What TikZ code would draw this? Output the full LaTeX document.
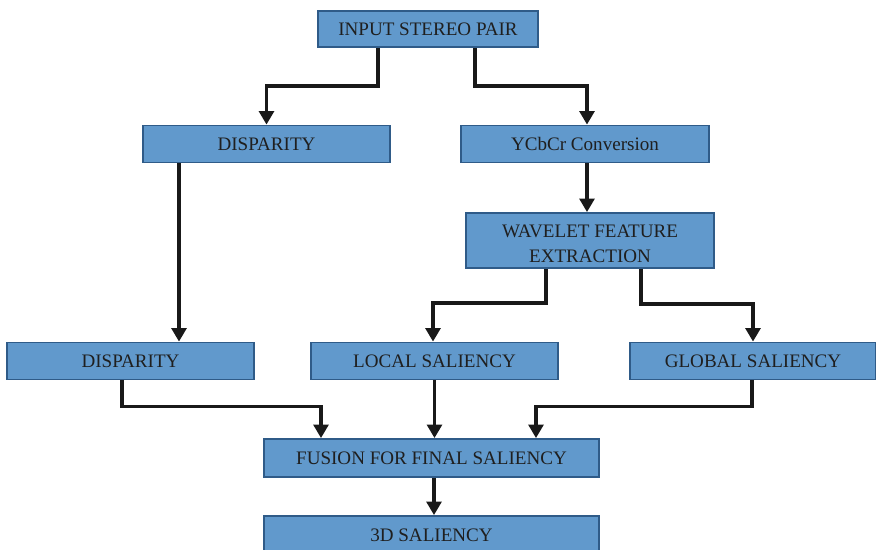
\documentclass[tikz,border=0pt]{standalone}
\usepackage{fontspec}
\setmainfont{Liberation Serif}
\usetikzlibrary{arrows.meta,calc}
\definecolor{boxfill}{HTML}{6199CC}
\definecolor{boxline}{HTML}{2F5B88}
\begin{document}
\begin{tikzpicture}[x=0.75pt,y=-0.75pt,>={Triangle[width=11pt,length=10pt]}]
	\tikzset{block/.style={draw=boxline,line width=1.4pt,fill=boxfill,text=black!88,
			font=\fontsize{14.3}{18.5}\selectfont,inner sep=0pt,align=center,
			minimum width=185.25pt,minimum height=27.75pt},
		link/.style={->,line width=2.5pt,black!90}}
	\useasboundingbox (0,0) rectangle (876,550);
	% boxes
	\node[block,minimum width=165pt,minimum height=27pt] (inp) at (428,29) {INPUT STEREO PAIR};
	\node[block] (disp1) at (266.5,144) {DISPARITY};
	\node[block,minimum width=186pt] (ycbcr) at (585,144) {YCbCr Conversion};
	\node[block,minimum width=186pt,minimum height=41.25pt] (wave) at (590,240.5) {\rule{0pt}{14pt}WAVELET FEATURE\\EXTRACTION};
	\node[block] (disp2) at (130.5,361) {DISPARITY};
	\node[block] (local) at (434.5,361) {LOCAL SALIENCY};
	\node[block,minimum width=184.5pt] (global) at (753,361) {GLOBAL SALIENCY};
	\node[block,minimum width=251.25pt,minimum height=28.5pt] (fusion) at (431.5,458) {FUSION FOR FINAL SALIENCY};
	\node[block,minimum width=251.25pt,minimum height=28.5pt] (final) at (431.5,535) {3D SALIENCY};
	% connectors
	\draw[link] ($(inp.south)+(-50,0)$) -- ++(0,38) -| (disp1.north);
	\draw[link] ($(inp.south)+(47,0)$) -- ++(0,38) -| ($(ycbcr.north)+(2,0)$);
	\draw[link] ($(disp1.south)+(-87.5,0)$) -- ($(disp2.north)+(48.5,0)$);
	\draw[link] ($(ycbcr.south)+(2,0)$) -- ($(wave.north)+(-3,0)$);
	\draw[link] ($(wave.south)+(-44,0)$) -- ++(0,34) -| ($(local.north)+(-1.5,0)$);
	\draw[link] ($(wave.south)+(51,0)$) -- ++(0,35) -| (global.north);
	\draw[link] ($(disp2.south)+(-8.5,0)$) -- ++(0,26) -| ($(fusion.north)+(-110.5,0)$);
	\draw[link] (local.south) -- (local.south |- fusion.north);
	\draw[link] ($(global.south)+(-1,0)$) -- ++(0,26) -| ($(fusion.north)+(104.5,0)$);
	\draw[link] ($(fusion.south)+(2.5,0)$) -- ($(final.north)+(2.5,0)$);
\end{tikzpicture}
\end{document}
